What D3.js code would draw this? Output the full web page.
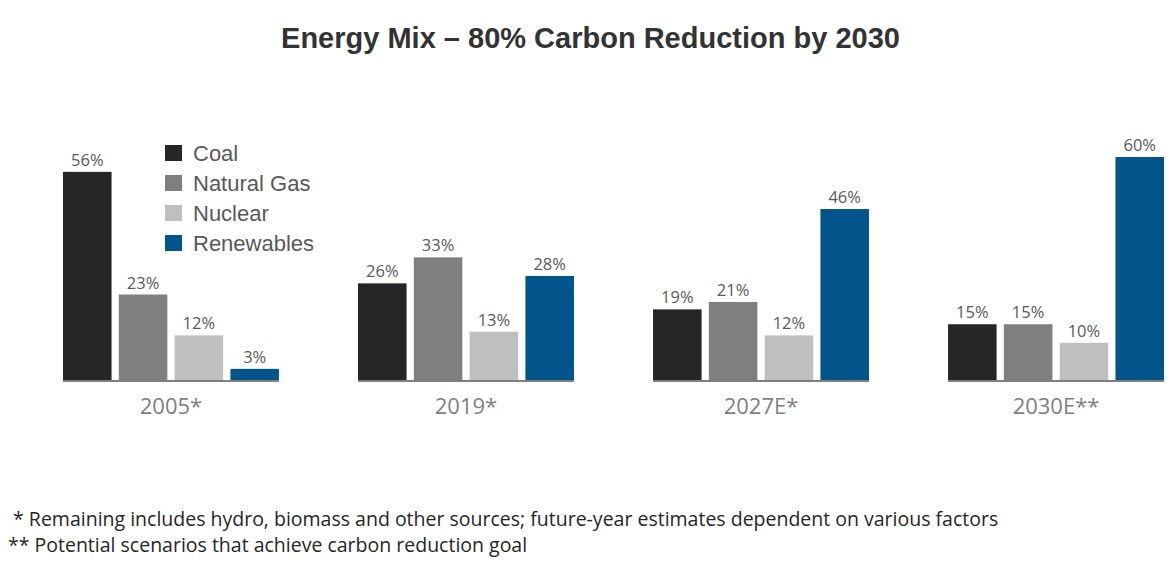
<!DOCTYPE html>
<html>
<head>
<meta charset="utf-8">
<script src="https://cdn.jsdelivr.net/npm/d3@7"></script>
<style>
  body { margin: 0; background: #fff; }
  svg { display: block; }
</style>
</head>
<body>
<div id="chart"></div>
<script>
const width = 1174
const height = 563

// data
const years = ["2005*", "2019*", "2027E*", "2030E**"]
const sources = ["Coal", "Natural Gas", "Nuclear", "Renewables"]
const coal = [56, 26, 19, 15]
const natural_gas = [23, 33, 21, 15]
const nuclear = [12, 13, 12, 10]
const renewables = [3, 28, 46, 60]
const footnotes = [
  " * Remaining includes hydro, biomass and other sources; future-year estimates dependent on various factors",
  "** Potential scenarios that achieve carbon reduction goal"
]

const colours = {
  "Coal": "#262626",
  "Natural Gas": "#7f7f7f",
  "Nuclear": "#bfbfbf",
  "Renewables": "#02558b"
}
const series_values = [coal, natural_gas, nuclear, renewables]

const base_y = 380
const label_font = "'Open Sans', 'DejaVu Sans', sans-serif"
const arial = "'Liberation Sans', Arial, sans-serif"

var svg = d3.select("#chart")
  .append("svg")
  .attr("width", width)
  .attr("height", height)

// title
svg.append("text")
  .attr("x", 590.5)
  .attr("y", 48)
  .attr("text-anchor", "middle")
  .attr("font-family", arial)
  .attr("font-weight", "bold")
  .attr("font-size", "29px")
  .attr("fill", "#333333")
  .text("Energy Mix – 80% Carbon Reduction by 2030")

var x_group = d3.scaleBand()
  .domain(years)
  .range([63, 1164])
  .paddingInner(0.268)
  .paddingOuter(0)

var x_bar = d3.scaleBand()
  .domain(sources)
  .range([0, x_group.bandwidth()])
  .paddingInner(0.13)
  .paddingOuter(0)

var y = d3.scaleLinear()
  .domain([0, 60])
  .range([base_y, base_y - 223])

var rows = years.map((yr, i) => ({
  year: yr,
  bars: sources.map((s, j) => ({ source: s, value: series_values[j][i] }))
}))

var group = svg.selectAll(".group")
  .data(rows)
  .enter().append("g")
  .attr("class", "group")
  .attr("transform", d => `translate(${x_group(d.year)},0)`)

group.selectAll(".bar")
  .data(d => d.bars)
  .enter().append("rect")
  .attr("class", "bar")
  .attr("x", d => x_bar(d.source))
  .attr("y", d => y(d.value))
  .attr("width", x_bar.bandwidth())
  .attr("height", d => y(0) - y(d.value))
  .style("fill", d => colours[d.source])

group.selectAll(".vlabel")
  .data(d => d.bars)
  .enter().append("text")
  .attr("class", "vlabel")
  .attr("x", d => x_bar(d.source) + x_bar.bandwidth() / 2)
  .attr("y", d => y(d.value) - 6)
  .attr("text-anchor", "middle")
  .attr("font-family", label_font)
  .attr("font-size", "16.5px")
  .attr("fill", "#595959")
  .text(d => d.value + "%")

// baseline under each group
group.append("line")
  .attr("x1", 0)
  .attr("x2", x_group.bandwidth())
  .attr("y1", base_y + 1)
  .attr("y2", base_y + 1)
  .style("stroke", "#808080")
  .style("stroke-width", "2px")

group.append("text")
  .attr("x", x_group.bandwidth() / 2)
  .attr("y", base_y + 34)
  .attr("text-anchor", "middle")
  .attr("font-family", label_font)
  .attr("font-size", "22px")
  .attr("fill", "#7f7f7f")
  .text(d => d.year)

// legend
var legend = svg.selectAll(".legend")
  .data(sources)
  .enter().append("g")
  .attr("class", "legend")
  .attr("transform", (d, i) => `translate(165,${153 + i * 30})`)

legend.append("rect")
  .attr("x", 0)
  .attr("y", -8)
  .attr("width", 17)
  .attr("height", 16)
  .style("fill", d => colours[d])

legend.append("text")
  .attr("x", 28)
  .attr("y", 8)
  .attr("font-family", arial)
  .attr("font-size", "22px")
  .attr("fill", "#595959")
  .text(d => d)

// footnotes
svg.selectAll(".note")
  .data(footnotes)
  .enter().append("text")
  .attr("class", "note")
  .attr("x", 8)
  .attr("y", (d, i) => 526 + i * 26)
  .attr("font-family", label_font)
  .attr("font-size", "19.5px")
  .attr("fill", "#262626")
  .attr("xml:space", "preserve")
  .style("white-space", "pre")
  .text(d => d)
</script>
</body>
</html>
